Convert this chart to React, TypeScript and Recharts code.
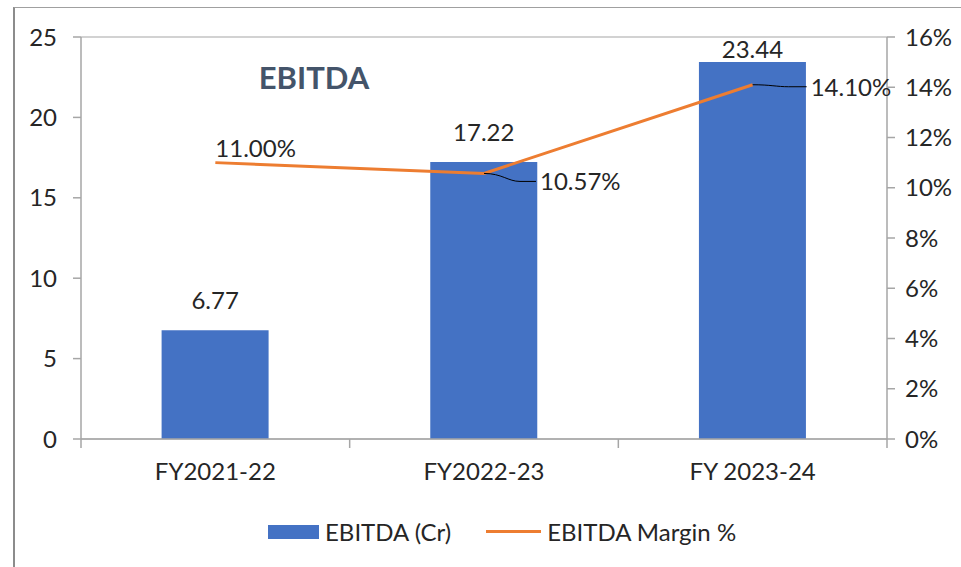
import React from "react";
import { ComposedChart, Bar, Line, XAxis, YAxis, CartesianGrid, LabelList, Legend } from "recharts";

const categories = ["FY2021-22", "FY2022-23", "FY 2023-24"];
const ebitda = [6.77, 17.22, 23.44];
const margin = [11.0, 10.57, 14.1];
const leftTicks = [0, 5, 10, 15, 20, 25];
const rightTicks = [0, 2, 4, 6, 8, 10, 12, 14, 16];
const marginLabelPlacement = ["above", "right", "right"];

const data = categories.map((c, i) => ({ name: c, ebitda: ebitda[i], margin: margin[i] }));

const W = 961;
const H = 567;
const PLOT_LEFT = 81;
const PLOT_RIGHT = 887;
const PLOT_TOP = 37;
const BAND = (PLOT_RIGHT - PLOT_LEFT) / categories.length;
const FONT = "Lato, 'Open Sans', sans-serif";
const FS = 24;
const TXT = "#262626";
const AXIS = "#A6A6A6";
const BLUE = "#4472C4";
const ORANGE = "#ED7D31";

const XTick = (props: any) => {
  const { x, y, payload, index } = props;
  const last = index === categories.length - 1;
  return (
    <g>
      <line x1={x - BAND / 2} x2={x - BAND / 2} y1={y - 8} y2={y + 1} stroke={AXIS} strokeWidth={1.5} />
      {last && <line x1={x + BAND / 2} x2={x + BAND / 2} y1={y - 8} y2={y + 1} stroke={AXIS} strokeWidth={1.5} />}
      <text x={x} y={y + 33} textAnchor="middle" fontSize={FS} fill={TXT} fontFamily={FONT}>
        {payload.value}
      </text>
    </g>
  );
};

const BarLabel = (props: any) => {
  const { x, y, width, value } = props;
  const ty = Math.max(y - 21, PLOT_TOP + 21);
  return (
    <text x={x + width / 2} y={ty} textAnchor="middle" fontSize={FS} fill={TXT} fontFamily={FONT}>
      {Number(value).toFixed(2)}
    </text>
  );
};

const LineLabel = (props: any) => {
  const { x, y, value, index } = props;
  const txt = `${Number(value).toFixed(2)}%`;
  if (marginLabelPlacement[index] === "above") {
    return (
      <text x={x} y={y - 6} textAnchor="start" fontSize={FS} fill={TXT} fontFamily={FONT}>
        {txt}
      </text>
    );
  }
  const dy = index === 1 ? 8 : 2;
  const len = index === 1 ? 52 : 54;
  const ex = x + len;
  const ey = y + dy;
  return (
    <g>
      <path
        d={`M${x},${y} C${x + 18},${y} ${x + 24},${ey} ${x + 36},${ey} L${ex},${ey}`}
        stroke="#000"
        strokeWidth={1}
        fill="none"
      />
      <text x={ex + 4} y={ey + 9} textAnchor="start" fontSize={FS} fill={TXT} fontFamily={FONT}>
        {txt}
      </text>
    </g>
  );
};

const LegendContent = () => (
  <div
    style={{
      position: "relative",
      height: 60,
      fontFamily: FONT,
      fontSize: FS,
      color: TXT,
    }}
  >
    <div style={{ position: "absolute", left: 268, top: 10, display: "flex", alignItems: "center", whiteSpace: "nowrap" }}>
      <span style={{ display: "inline-block", width: 51, height: 14, background: BLUE, marginRight: 6 }} />
      <span>EBITDA (Cr)</span>
      <span style={{ display: "inline-block", width: 55, height: 3, background: ORANGE, marginLeft: 35, marginRight: 6 }} />
      <span>EBITDA Margin %</span>
    </div>
  </div>
);

export default function App() {
  return (
    <div style={{ position: "absolute", left: 0, top: 0, width: W, height: H, background: "#fff", overflow: "hidden" }}>
      <div
        style={{
          position: "absolute",
          left: 13,
          top: 7,
          width: 1000,
          height: 600,
          borderLeft: "2px solid #8C8C8C",
          borderTop: "1px solid #A0A0A0",
        }}
      />
      <div style={{ position: "absolute", left: 0, top: 0 }}>
        <ComposedChart
          width={W}
          height={H}
          data={data}
          margin={{ top: PLOT_TOP, right: 0, bottom: 0, left: 0 }}
          barCategoryGap="30%"
        >
          <CartesianGrid vertical={false} stroke={AXIS} strokeWidth={1.2} />
          <XAxis
            dataKey="name"
            xAxisId="x"
            height={68}
            axisLine={{ stroke: AXIS, strokeWidth: 1.5 }}
            tickLine={false}
            tick={<XTick />}
            interval={0}
          />
          <YAxis
            yAxisId="left"
            orientation="left"
            width={PLOT_LEFT}
            domain={[0, 25]}
            ticks={leftTicks}
            axisLine={{ stroke: AXIS, strokeWidth: 1.5 }}
            tickLine={{ stroke: AXIS, strokeWidth: 1.5 }}
            tickSize={8}
            tickMargin={16}
            tick={{ fontSize: FS, fill: TXT, fontFamily: FONT }}
          />
          <YAxis
            yAxisId="right"
            orientation="right"
            width={W - PLOT_RIGHT}
            domain={[0, 16]}
            ticks={rightTicks}
            tickFormatter={(v: number) => `${v}%`}
            axisLine={{ stroke: AXIS, strokeWidth: 1.5 }}
            tickLine={{ stroke: AXIS, strokeWidth: 1.5 }}
            tickSize={8}
            tickMargin={10}
            tick={{ fontSize: FS, fill: TXT, fontFamily: FONT }}
          />
          <Legend verticalAlign="bottom" height={60} content={<LegendContent />} />
          <Bar dataKey="ebitda" name="EBITDA (Cr)" xAxisId="x" yAxisId="left" fill={BLUE} isAnimationActive={false}>
            <LabelList dataKey="ebitda" content={<BarLabel />} />
          </Bar>
          <Line
            dataKey="margin"
            name="EBITDA Margin %"
            xAxisId="x"
            yAxisId="right"
            stroke={ORANGE}
            strokeWidth={3}
            dot={false}
            isAnimationActive={false}
          >
            <LabelList dataKey="margin" content={<LineLabel />} />
          </Line>
          <text x={314} y={89} textAnchor="middle" fontSize={31} fontWeight="bold" fill="#44546A" fontFamily={FONT}>
            EBITDA
          </text>
        </ComposedChart>
      </div>
    </div>
  );
}
